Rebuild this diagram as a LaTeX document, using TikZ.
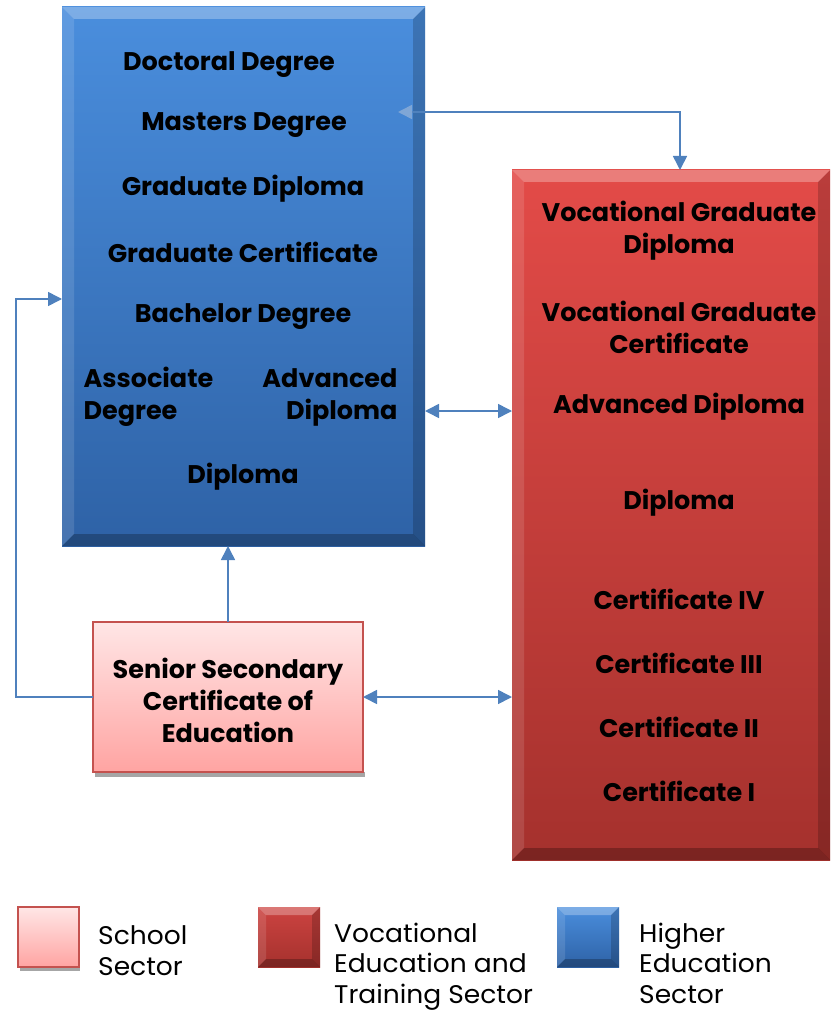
\documentclass[tikz,border=0pt]{standalone}
\usepackage{fontspec}
\setmainfont{Poppins}
\newfontfamily\legendfont[FakeStretch=1.04]{Poppins}
\usetikzlibrary{arrows.meta,calc}

\definecolor{hetop}{HTML}{4A8EDD}
\definecolor{hebot}{HTML}{2E62A6}
\definecolor{vettop}{HTML}{E34B48}
\definecolor{vetbot}{HTML}{A5312D}
\definecolor{schtop}{HTML}{FFE6E6}
\definecolor{schbot}{HTML}{FFA4A2}
\definecolor{schedge}{HTML}{C4524F}
\definecolor{linkblue}{HTML}{4F81BD}
\definecolor{tipfaint}{HTML}{7FA6D6}

\tikzstyle{sector}=[draw=none, fill=none, inner sep=0pt, outer sep=0pt]
\tikzstyle{lbl}=[font=\bfseries\fontsize{25.5}{32}\selectfont, align=center, yshift=-2pt]
\tikzstyle{legend}=[font=\legendfont\fontsize{25.5}{30.5}\selectfont, align=left, anchor=base west, inner sep=0pt]
\tikzstyle{link}=[draw=linkblue, line width=1.6pt]
\tikzstyle{tip}=[-{Triangle[width=14pt,length=14pt]}]
\tikzstyle{tips}=[{Triangle[width=14pt,length=14pt]}-{Triangle[width=14pt,length=14pt]}]

% bevelled block: corners, top colour, bottom colour, bevel width
\newcommand{\bevelbox}[7]{
\fill[top color=#5, bottom color=#6] (#1,#2) rectangle (#3,#4);
\fill[white, opacity=.28] (#1,#2) -- (#3,#2) -- (#3-#7,#2+#7) -- (#1+#7,#2+#7) -- cycle;
\fill[white, opacity=.12] (#1,#2) -- (#1+#7,#2+#7) -- (#1+#7,#4-#7) -- (#1,#4) -- cycle;
\fill[black, opacity=.18] (#3,#2) -- (#3,#4) -- (#3-#7,#4-#7) -- (#3-#7,#2+#7) -- cycle;
\fill[black, opacity=.25] (#1,#4) -- (#3,#4) -- (#3-#7,#4-#7) -- (#1+#7,#4-#7) -- cycle;
}

\begin{document}
\begin{tikzpicture}[x=1pt, y=-1pt]
\useasboundingbox (0,0) rectangle (830,1011);

% sectors
\bevelbox{62}{7}{425}{546}{hetop}{hebot}{12}
\bevelbox{512}{170}{830}{860}{vettop}{vetbot}{12}
\fill[gray!70] (95,772) rectangle (365,777);
\draw[schedge, line width=1.2pt, top color=schtop, bottom color=schbot] (93,622) rectangle (363,772);

\node[sector, minimum width=363pt, minimum height=539pt] (he) at (243.5,276.5) {};
\node[sector, minimum width=318pt, minimum height=690pt] (vet) at (671,515) {};
\node[sector, minimum width=270pt, minimum height=150pt] (ssce) at (228,697) {};

% higher education awards
\node[lbl] (doc) at (229,63) {Doctoral Degree};
\node[lbl] (mas) at (244,123) {Masters Degree};
\node[lbl] (gdip) at (243,187) {Graduate Diploma};
\node[lbl] (gcert) at (243,250) {Graduate Certificate};
\node[lbl] (bach) at (243,315) {Bachelor Degree};
\node[lbl, align=left, anchor=west] (assoc) at (80,395) {Associate\\Degree};
\node[lbl, align=right, anchor=east] (adipa) at (401,395) {Advanced\\Diploma};
\node[lbl] (dipa) at (243,475) {Diploma};

% vocational awards
\node[lbl] (vgdip) at (679,229) {Vocational Graduate\\Diploma};
\node[lbl] (vgcert) at (679,325) {Vocational Graduate\\Certificate};
\node[lbl] (adipb) at (679,405) {Advanced Diploma};
\node[lbl] (dipb) at (679,501) {Diploma};
\node[lbl] (c4) at (679,597) {Certificate IV};
\node[lbl] (c3) at (679,661) {Certificate III};
\node[lbl] (c2) at (679,725) {Certificate II};
\node[lbl] (c1) at (679,789) {Certificate I};

% school
\node[lbl] (ssctxt) at (228,698) {Senior Secondary\\Certificate of\\Education};

% pathways
\coordinate (hetip) at (398,112);
\coordinate (vettip) at (680,170);
\coordinate (heleft) at (62,299);
\draw[link, {Triangle[width=14pt,length=14pt,color=tipfaint]}-{Triangle[width=14pt,length=14pt]}] (hetip) -| (vettip);
\draw[link, tip] (ssce.west) -| (16,299) -- (heleft);
\draw[link, tip] (ssce.north) -- (ssce.north |- he.south);
\draw[link, tips] (he.east |- 0,411) -- (vet.west |- 0,411);
\draw[link, tips] (ssce.east) -- (ssce.east -| vet.west);

% legend
\fill[gray!70] (20,967) rectangle (80,971);
\draw[schedge, line width=1.2pt, top color=schtop, bottom color=schbot] (18,907) rectangle (79,967);
\bevelbox{258}{907}{320}{967}{vettop!90!black}{vetbot}{8}
\bevelbox{557}{907}{619}{967}{hetop}{hebot}{8}
\node[legend] (lgsch) at (98,975) {School\\Sector};
\node[legend] (lgvet) at (334,1003) {Vocational\\Education and\\Training Sector};
\node[legend] (lghe) at (639,1003) {Higher\\Education\\Sector};
\end{tikzpicture}
\end{document}
